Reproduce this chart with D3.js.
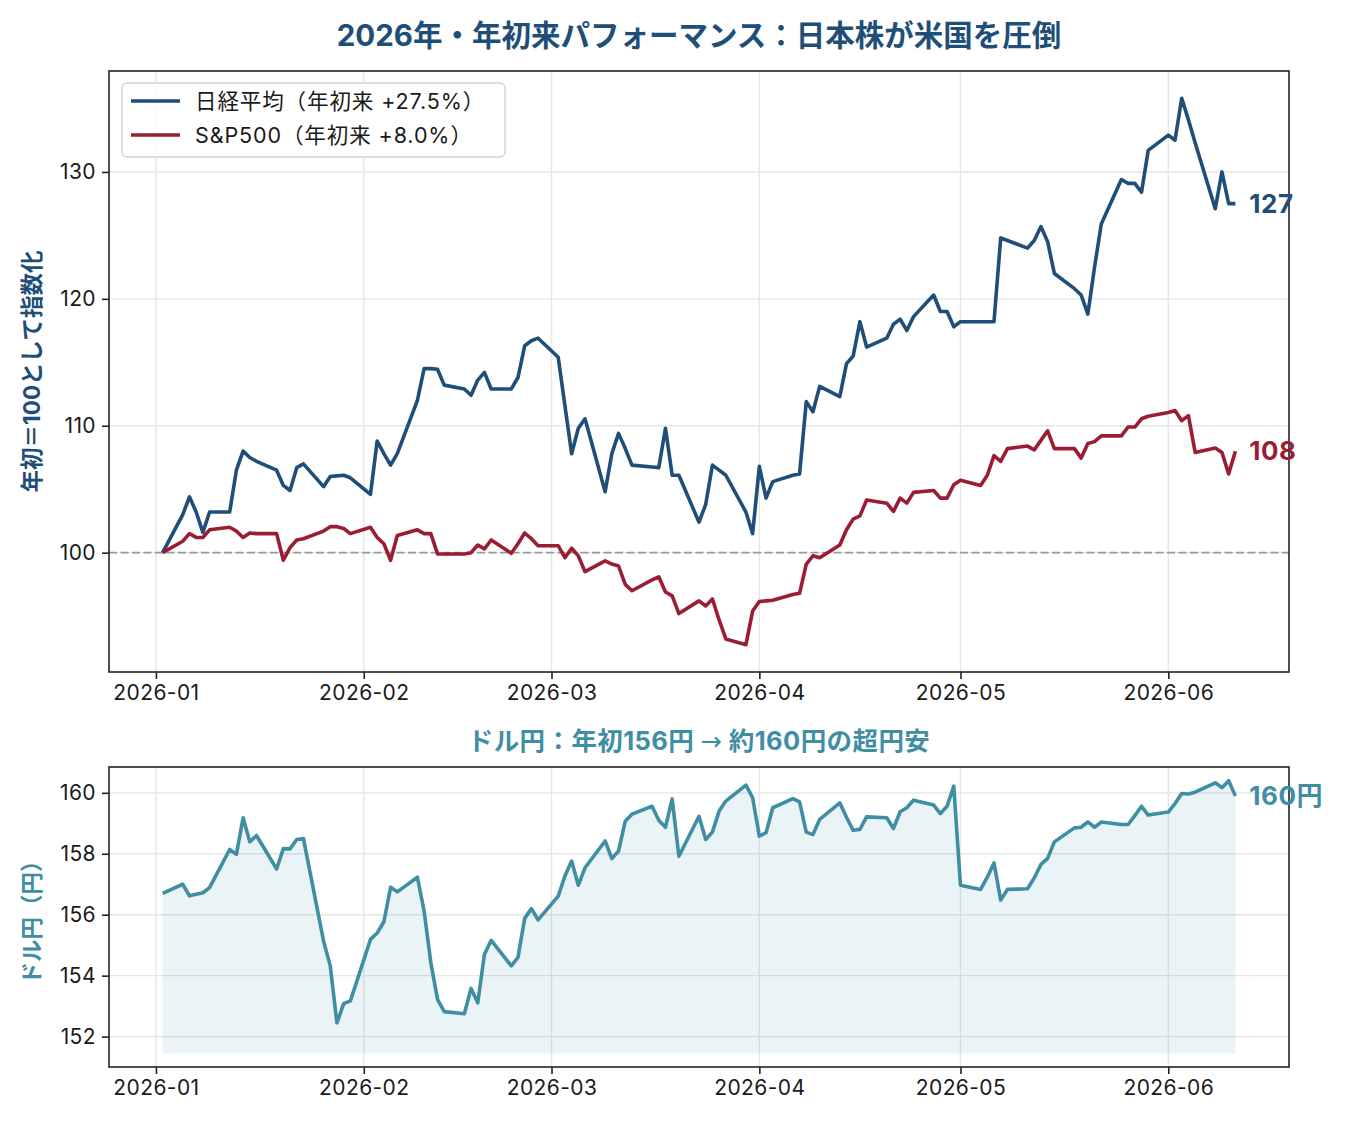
<!DOCTYPE html>
<html><head><meta charset="utf-8">
<script src="https://cdn.jsdelivr.net/npm/d3@7"></script>
<style>html,body{margin:0;padding:0;background:#fff}</style>
</head><body><div id="chart"></div>
<script>
const dates = [
"2026-01-02","2026-01-05","2026-01-06","2026-01-07","2026-01-08","2026-01-09","2026-01-12","2026-01-13","2026-01-14","2026-01-15","2026-01-16","2026-01-19","2026-01-20","2026-01-21","2026-01-22","2026-01-23","2026-01-26","2026-01-27","2026-01-28","2026-01-29","2026-01-30",
"2026-02-02","2026-02-03","2026-02-04","2026-02-05","2026-02-06","2026-02-09","2026-02-10","2026-02-11","2026-02-12","2026-02-13","2026-02-16","2026-02-17","2026-02-18","2026-02-19","2026-02-20","2026-02-23","2026-02-24","2026-02-25","2026-02-26","2026-02-27",
"2026-03-02","2026-03-03","2026-03-04","2026-03-05","2026-03-06","2026-03-09","2026-03-10","2026-03-11","2026-03-12","2026-03-13","2026-03-16","2026-03-17","2026-03-18","2026-03-19","2026-03-20","2026-03-23","2026-03-24","2026-03-25","2026-03-26","2026-03-27","2026-03-30","2026-03-31",
"2026-04-01","2026-04-02","2026-04-03","2026-04-06","2026-04-07","2026-04-08","2026-04-09","2026-04-10","2026-04-13","2026-04-14","2026-04-15","2026-04-16","2026-04-17","2026-04-20","2026-04-21","2026-04-22","2026-04-23","2026-04-24","2026-04-27","2026-04-28","2026-04-29","2026-04-30",
"2026-05-01","2026-05-04","2026-05-05","2026-05-06","2026-05-07","2026-05-08","2026-05-11","2026-05-12","2026-05-13","2026-05-14","2026-05-15","2026-05-18","2026-05-19","2026-05-20","2026-05-21","2026-05-22","2026-05-25","2026-05-26","2026-05-27","2026-05-28","2026-05-29",
"2026-06-01","2026-06-02","2026-06-03","2026-06-04","2026-06-05","2026-06-08","2026-06-09","2026-06-10","2026-06-11"];

const nikkei = [
100.0,103.0,104.4,103.2,101.6,103.2,103.2,106.5,108.0,107.5,107.2,106.5,105.3,104.9,106.7,107.0,105.2,106.0,106.05,106.1,105.9,
104.6,108.8,107.8,106.9,107.8,112.0,114.5,114.5,114.45,113.2,112.9,112.4,113.6,114.2,112.9,112.9,113.8,116.3,116.7,116.9,
115.4,111.6,107.8,109.8,110.55,104.8,107.8,109.4,108.2,106.9,106.75,106.7,109.8,106.1,106.1,102.4,103.8,106.9,106.5,106.1,103.2,101.5,
106.8,104.3,105.6,106.1,106.2,111.9,111.1,113.1,112.3,114.9,115.5,118.2,116.2,116.9,118.0,118.4,117.5,118.6,120.3,119.0,119.0,117.8,
118.2,118.2,118.2,118.2,124.8,124.6,124.0,124.6,125.7,124.5,122.0,120.8,120.3,118.8,122.5,125.9,129.4,129.1,129.1,128.4,131.7,
132.9,132.5,135.8,134.1,132.3,127.1,130.0,127.5,127.5];

const sp500 = [
100.0,100.9,101.5,101.2,101.2,101.8,102.0,101.7,101.2,101.55,101.5,101.5,99.4,100.4,101.0,101.1,101.7,102.05,102.05,101.9,101.5,
102.0,101.2,100.7,99.4,101.35,101.8,101.5,101.5,99.9,99.9,99.9,100.0,100.6,100.3,101.0,99.95,100.7,101.55,101.1,100.55,
100.55,99.6,100.35,99.75,98.5,99.35,99.1,98.95,97.5,97.0,97.85,98.1,96.9,96.6,95.2,96.2,95.8,96.35,94.7,93.2,92.75,95.4,
96.15,96.2,96.25,96.7,96.8,99.1,99.75,99.6,100.6,101.8,102.65,102.9,104.15,103.9,103.25,104.3,103.9,104.75,104.9,104.3,104.3,105.35,
105.7,105.3,106.1,107.65,107.2,108.2,108.4,108.1,108.85,109.6,108.2,108.2,107.45,108.6,108.75,109.2,109.2,109.9,109.9,110.55,110.75,
111.05,111.2,110.4,110.8,107.9,108.25,107.9,106.2,108.0];

const usdjpy = [
156.7,157.0,156.62,156.67,156.72,156.89,158.14,157.98,159.18,158.39,158.6,157.5,158.17,158.16,158.47,158.5,155.14,154.32,152.45,153.08,153.17,
155.19,155.4,155.77,156.9,156.75,157.23,156.12,154.43,153.22,152.82,152.75,153.58,153.11,154.7,155.16,154.32,154.6,155.88,156.2,155.83,
156.61,157.27,157.76,156.97,157.54,158.42,157.84,158.09,159.07,159.3,159.56,159.1,158.87,159.8,157.92,159.23,158.47,158.71,159.4,159.73,160.25,159.84,
158.58,158.69,159.51,159.81,159.7,158.71,158.63,159.13,159.67,159.2,158.77,158.8,159.21,159.18,158.83,159.38,159.51,159.76,159.6,159.32,159.56,160.22,
156.97,156.83,157.23,157.7,156.48,156.83,156.85,157.21,157.65,157.85,158.39,158.85,158.87,159.05,158.87,159.04,158.96,158.96,159.25,159.56,159.27,
159.37,159.65,159.98,159.96,160.02,160.33,160.17,160.4,159.9];

const indexTicks = [100, 110, 120, 130];
const fxTicks = [152, 154, 156, 158, 160];
const monthTicks = ["2026-01-01","2026-02-01","2026-03-01","2026-04-01","2026-05-01","2026-06-01"];
const legendLabels = ["日経平均（年初来 +27.5%）", "S&P500（年初来 +8.0%）"];
const titleText = "2026年・年初来パフォーマンス：日本株が米国を圧倒";
const fxTitleParts = ["ドル円：年初156円 ", "→", " 約160円の超円安"];
const indexYLabel = "年初＝100として指数化";
const fxYLabel = "ドル円（円）";
const endLabels = ["127", "108", "160円"];

const NK = "#1f4e79", SP = "#9b1d33", FX = "#3f8ea3";
const FONT = "Inter, 'Noto Sans CJK JP', sans-serif";
const W = 1350, H = 1125;
const L = 109, R = 1289, T1 = 71, B1 = 672, T2 = 767, B2 = 1067;
const LW = 3.6;

const parse = d3.timeParse("%Y-%m-%d");
const dt = dates.map(parse);
const pad = (lo, hi) => { const p = (hi - lo) * 0.05; return [lo - p, hi + p]; };
const [t0, t1] = d3.extent(dt);
const xd = pad(+t0, +t1);
const x = d3.scaleTime().domain([new Date(xd[0]), new Date(xd[1])]).range([L, R]);
const allIdx = nikkei.concat(sp500);
const y1 = d3.scaleLinear().domain(pad(d3.min(allIdx), d3.max(allIdx))).range([B1, T1]);
const fxBase = d3.min(usdjpy) - 1;
const y2 = d3.scaleLinear().domain(pad(fxBase, d3.max(usdjpy))).range([B2, T2]);

const svg = d3.select("#chart").append("svg").attr("width", W).attr("height", H)
  .style("font-family", FONT).style("background", "#fff");
svg.append("rect").attr("width", W).attr("height", H).attr("fill", "#fff");

function panel(top, bottom, yScale, yTicks) {
  const g = svg.append("g");
  g.selectAll(".gx").data(monthTicks.map(parse)).join("line")
    .attr("x1", d => x(d)).attr("x2", d => x(d)).attr("y1", top).attr("y2", bottom)
    .attr("stroke", "#e6e6e6").attr("stroke-width", 1.4);
  g.selectAll(".gy").data(yTicks).join("line")
    .attr("x1", L).attr("x2", R).attr("y1", d => yScale(d)).attr("y2", d => yScale(d))
    .attr("stroke", "#e6e6e6").attr("stroke-width", 1.4);
  return g;
}
function frame(top, bottom, yScale, yTicks) {
  const g = svg.append("g");
  g.append("rect").attr("x", L).attr("y", top).attr("width", R - L).attr("height", bottom - top)
    .attr("fill", "none").attr("stroke", "#222").attr("stroke-width", 1.6);
  const xa = d3.axisBottom(x).tickValues(monthTicks.map(parse)).tickFormat(d3.timeFormat("%Y-%m"))
    .tickSize(7).tickPadding(6);
  const gx = g.append("g").attr("transform", `translate(0,${bottom})`).call(xa);
  const ya = d3.axisLeft(yScale).tickValues(yTicks).tickFormat(d3.format("d")).tickSize(7).tickPadding(6);
  const gy = g.append("g").attr("transform", `translate(${L},0)`).call(ya);
  [gx, gy].forEach(a => {
    a.select(".domain").remove();
    a.selectAll(".tick line").attr("stroke", "#222").attr("stroke-width", 1.6);
    a.selectAll(".tick text").attr("fill", "#1a1a1a").style("font-size", "21px")
      .style("letter-spacing", "0.4px").style("font-family", FONT);
  });
}

// ---------- Top panel ----------
panel(T1, B1, y1, indexTicks);
svg.append("line").attr("x1", L).attr("x2", R).attr("y1", y1(100)).attr("y2", y1(100))
  .attr("stroke", "#999").attr("stroke-width", 1.6).attr("stroke-dasharray", "8,3.5");
const line1 = d3.line().x((d, i) => x(dt[i])).y(d => y1(d));
svg.append("path").datum(nikkei).attr("d", line1).attr("fill", "none")
  .attr("stroke", NK).attr("stroke-width", LW).attr("stroke-linejoin", "round");
svg.append("path").datum(sp500).attr("d", line1).attr("fill", "none")
  .attr("stroke", SP).attr("stroke-width", LW).attr("stroke-linejoin", "round");
frame(T1, B1, y1, indexTicks);

const last = dt.length - 1;
const endLbl = (yy, c, t) => svg.append("text").attr("x", x(dt[last]) + 14).attr("y", yy).attr("dy", "0.36em")
  .attr("fill", c).style("font-size", "26px").style("font-weight", 700).style("letter-spacing", "0.5px").text(t);
endLbl(y1(nikkei[last]), NK, endLabels[0]);
endLbl(y1(sp500[last]), SP, endLabels[1]);

// legend
const lg = svg.append("g");
lg.append("rect").attr("x", 122).attr("y", 83).attr("width", 383).attr("height", 74).attr("rx", 5)
  .attr("fill", "#fff").attr("fill-opacity", 0.85).attr("stroke", "#d4d4d4").attr("stroke-width", 1.4);
[[NK, legendLabels[0], 101], [SP, legendLabels[1], 135]].forEach(([c, t, yy]) => {
  lg.append("line").attr("x1", 131).attr("x2", 180).attr("y1", yy).attr("y2", yy)
    .attr("stroke", c).attr("stroke-width", LW);
  lg.append("text").attr("x", 195).attr("y", yy).attr("dy", "0.36em").attr("fill", "#1a1a1a")
    .style("font-size", "21.5px").style("letter-spacing", "0.9px").text(t);
});

// title & y label
svg.append("text").attr("x", (L + R) / 2).attr("y", 46).attr("text-anchor", "middle")
  .attr("fill", NK).style("font-size", "29.5px").style("font-weight", 700).text(titleText);
svg.append("text").attr("transform", `translate(40,${(T1 + B1) / 2}) rotate(-90)`).attr("text-anchor", "middle")
  .attr("fill", NK).style("font-size", "22.5px").style("font-weight", 700).text(indexYLabel);

// ---------- Bottom panel ----------
panel(T2, B2, y2, fxTicks);
const area = d3.area().x((d, i) => x(dt[i])).y0(y2(fxBase)).y1(d => y2(d));
svg.append("path").datum(usdjpy).attr("d", area).attr("fill", FX).attr("fill-opacity", 0.11);
const line2 = d3.line().x((d, i) => x(dt[i])).y(d => y2(d));
svg.append("path").datum(usdjpy).attr("d", line2).attr("fill", "none")
  .attr("stroke", FX).attr("stroke-width", LW).attr("stroke-linejoin", "round");
frame(T2, B2, y2, fxTicks);
endLbl(y2(usdjpy[last]), FX, endLabels[2]);
const st = svg.append("text").attr("x", (L + R) / 2).attr("y", 750).attr("text-anchor", "middle")
  .attr("fill", FX).style("font-size", "25.5px").style("font-weight", 700).style("letter-spacing", "0.4px");
st.append("tspan").text(fxTitleParts[0]);
st.append("tspan").style("font-family", "'DejaVu Sans', sans-serif").style("font-weight", 400).text(fxTitleParts[1]);
st.append("tspan").text(fxTitleParts[2]);
svg.append("text").attr("transform", `translate(40,${(T2 + B2) / 2}) rotate(-90)`).attr("text-anchor", "middle")
  .attr("fill", FX).style("font-size", "22.5px").style("font-weight", 700).text(fxYLabel);
</script>
</body></html>
